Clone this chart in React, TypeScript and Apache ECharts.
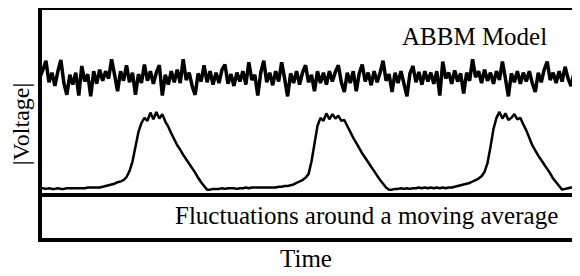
import React, { useEffect, useRef } from "react";
import * as echarts from "echarts";

// Time axis: samples every 3 time units
const timeStep = 3;

// Top trace: ABBM model signal (|Voltage|, arbitrary units)
const abbmSignal = [
  1.52, 1.62, 1.74, 1.45, 1.58, 1.40, 1.60, 1.75, 1.44, 1.28,
  1.55, 1.42, 1.58, 1.27, 1.67, 1.46, 1.56, 1.26, 1.60, 1.43,
  1.62, 1.47, 1.60, 1.50, 1.76, 1.55, 1.33, 1.60, 1.47, 1.68,
  1.45, 1.58, 1.28, 1.56, 1.44, 1.69, 1.47, 1.60, 1.43, 1.58,
  1.68, 1.27, 1.55, 1.42, 1.60, 1.45, 1.62, 1.44, 1.76, 1.48,
  1.58, 1.40, 1.28, 1.57, 1.46, 1.68, 1.45, 1.60, 1.42, 1.58,
  1.44, 1.62, 1.69, 1.43, 1.56, 1.40, 1.58, 1.46, 1.60, 1.42,
  1.72, 1.48, 1.55, 1.27, 1.58, 1.74, 1.45, 1.58, 1.41, 1.60,
  1.46, 1.72, 1.50, 1.26, 1.57, 1.44, 1.60, 1.42, 1.58, 1.68,
  1.45, 1.55, 1.33, 1.60, 1.44, 1.58, 1.42, 1.60, 1.46, 1.59,
  1.68, 1.45, 1.32, 1.58, 1.44, 1.60, 1.33, 1.57, 1.69, 1.46,
  1.58, 1.41, 1.60, 1.45, 1.58, 1.74, 1.47, 1.56, 1.32, 1.58,
  1.44, 1.60, 1.43, 1.26, 1.57, 1.67, 1.45, 1.59, 1.42, 1.60,
  1.46, 1.58, 1.43, 1.60, 1.27, 1.73, 1.50, 1.58, 1.43, 1.61,
  1.46, 1.57, 1.30, 1.58, 1.47, 1.76, 1.52, 1.60, 1.44, 1.62,
  1.47, 1.58, 1.43, 1.60, 1.48, 1.73, 1.50, 1.26, 1.57, 1.45,
  1.60, 1.43, 1.58, 1.46, 1.60, 1.44, 1.32, 1.58, 1.45, 1.62,
  1.73, 1.48, 1.58, 1.44, 1.60, 1.46, 1.66, 1.50, 1.40, 1.58,
  1.50,
];

// Bottom trace: fluctuations around a moving average
const fluctuationSignal = [
  0.02, 0.02, 0.01, 0.02, 0.01, 0.01, 0.02, 0.01, 0.01, 0.02,
  0.02, 0.02, 0.02, 0.02, 0.02, 0.02, 0.03, 0.03, 0.03, 0.03,
  0.03, 0.04, 0.05, 0.06, 0.07, 0.08, 0.10, 0.11, 0.13, 0.17,
  0.25, 0.38, 0.58, 0.78, 0.90, 0.97, 0.93, 1.04, 0.95, 1.05,
  0.96, 1.02, 0.92, 0.85, 0.76, 0.68, 0.60, 0.54, 0.47, 0.41,
  0.35, 0.29, 0.23, 0.16, 0.10, 0.05, 0.00, 0.00, 0.01, 0.01,
  0.01, 0.02, 0.01, 0.02, 0.02, 0.02, 0.01, 0.02, 0.02, 0.03,
  0.02, 0.03, 0.03, 0.03, 0.03, 0.03, 0.03, 0.03, 0.03, 0.03,
  0.04, 0.04, 0.05, 0.05, 0.06, 0.07, 0.09, 0.11, 0.13, 0.16,
  0.21, 0.38, 0.62, 0.86, 0.97, 0.93, 1.03, 0.95, 1.02, 0.96,
  1.00, 0.93, 0.94, 0.86, 0.78, 0.70, 0.63, 0.56, 0.49, 0.43,
  0.37, 0.31, 0.25, 0.19, 0.13, 0.08, 0.03, 0.00, 0.00, 0.01,
  0.01, 0.02, 0.01, 0.02, 0.01, 0.02, 0.02, 0.03, 0.02, 0.03,
  0.02, 0.03, 0.02, 0.03, 0.02, 0.03, 0.02, 0.03, 0.03, 0.04,
  0.05, 0.06, 0.07, 0.08, 0.09, 0.11, 0.13, 0.15, 0.18, 0.24,
  0.36, 0.58, 0.82, 0.97, 1.05, 0.96, 1.03, 0.94, 0.97, 1.02,
  0.95, 0.97, 0.88, 0.80, 0.70, 0.60, 0.53, 0.46, 0.40, 0.34,
  0.28, 0.22, 0.15, 0.10, 0.05, 0.00, 0.01, 0.02, 0.03, 0.03,
  0.04,
];

// Separator between the plot and the caption strip
const separatorLevel = -0.067;

const topLabel = "ABBM Model";
const bottomLabel = "Fluctuations around a moving average";
const xName = "Time";
const yName = "|Voltage|";

const FONT = "serif";

export default function App() {
  const ref = useRef<HTMLDivElement>(null);

  useEffect(() => {
    if (!ref.current) return;
    const chart = echarts.init(ref.current, undefined, { renderer: "svg" });
    const toPairs = (arr: number[]) => arr.map((v, i) => [i * timeStep, v]);

    chart.setOption({
      animation: false,
      backgroundColor: "#fff",
      textStyle: { fontFamily: FONT },
      grid: {
        left: 40,
        right: -3,
        top: 8,
        bottom: 33,
        show: true,
        borderColor: "#000",
        borderWidth: 4,
        backgroundColor: "transparent",
      },
      xAxis: {
        type: "value",
        min: 0,
        max: 543,
        name: xName,
        nameLocation: "middle",
        nameGap: 6,
        nameTextStyle: {
          fontFamily: FONT,
          fontSize: 25,
          color: "#000",
          verticalAlign: "top",
          padding: [0, 8, 0, 0],
        },
        axisLine: { show: false },
        axisTick: { show: false },
        axisLabel: { show: false },
        splitLine: { show: false },
      },
      yAxis: {
        type: "value",
        min: -0.68,
        max: 2.453,
        name: yName,
        nameLocation: "middle",
        nameGap: 7,
        nameRotate: 90,
        nameTextStyle: {
          fontFamily: FONT,
          fontSize: 24,
          color: "#000",
        },
        axisLine: { show: false },
        axisTick: { show: false },
        axisLabel: { show: false },
        splitLine: { show: false },
      },
      series: [
        {
          type: "line",
          data: toPairs(abbmSignal),
          showSymbol: false,
          lineStyle: { color: "#000", width: 3.5, join: "miter", miterLimit: 2 },
          silent: true,
        },
        {
          type: "line",
          data: toPairs(fluctuationSignal),
          showSymbol: false,
          lineStyle: { color: "#000", width: 2.5 },
          silent: true,
          markLine: {
            silent: true,
            symbol: "none",
            label: { show: false },
            lineStyle: { color: "#000", width: 4, type: "solid" },
            data: [{ yAxis: separatorLevel }],
          },
        },
      ],
      graphic: [
        {
          type: "text",
          left: 402,
          top: 24,
          style: {
            text: topLabel,
            fontFamily: FONT,
            fontSize: 25,
            fill: "#000",
          },
        },
        {
          type: "text",
          left: 175,
          top: 203,
          style: {
            text: bottomLabel,
            fontFamily: FONT,
            fontSize: 25,
            fill: "#000",
          },
        },
      ],
    });

    return () => chart.dispose();
  }, []);

  return <div ref={ref} style={{ width: 580, height: 276, margin: -8 }} />;
}
